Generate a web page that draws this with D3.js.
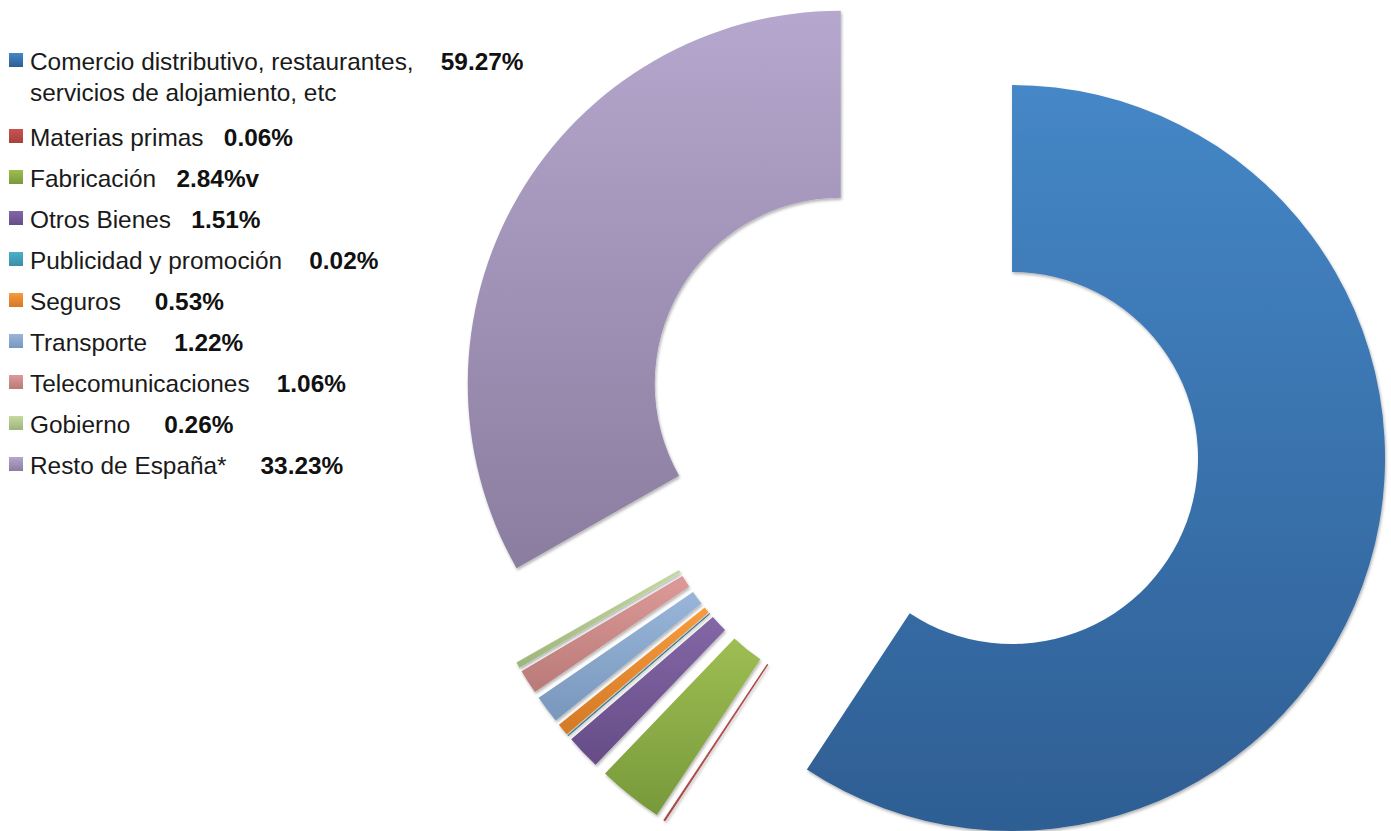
<!DOCTYPE html>
<meta charset="utf-8">
<style>
    body { margin: 0; background: #fff; }
    svg { display: block; }
    .legend text {
        font-family: "Liberation Sans", Arial, sans-serif;
        font-size: 24.4px;
        fill: #1a1a1a;
        white-space: pre;
    }
    .legend .val { font-weight: bold; fill: #111; }
</style>
<body>
<svg width="1391" height="831"></svg>
<script src="https://cdn.jsdelivr.net/npm/d3@7"></script>
<script>

    // data
    var categories = [
        ["Comercio distributivo, restaurantes,", "servicios de alojamiento, etc"],
        ["Materias primas"],
        ["Fabricación"],
        ["Otros Bienes"],
        ["Publicidad y promoción"],
        ["Seguros"],
        ["Transporte"],
        ["Telecomunicaciones"],
        ["Gobierno"],
        ["Resto de España*"]
    ];
    var values = [59.27, 0.06, 2.84, 1.51, 0.02, 0.53, 1.22, 1.06, 0.26, 33.23];
    // value labels as printed (including the stray "v")
    var valueLabels = ["59.27%", "0.06%", "2.84%v", "1.51%", "0.02%", "0.53%", "1.22%", "1.06%", "0.26%", "33.23%"];
    // spaces typed between label and value in the original
    var gaps = ["    ", "   ", "   ", "   ", "    ", "     ", "    ", "    ", "     ", "     "];

    // gradient top / bottom colours
    var colorTop    = ["#4587c7", "#c9524f", "#9ebe53", "#8467a6", "#4dafc9", "#f79b3d", "#99b6da", "#dd9a98", "#c5d9a1", "#b5a7cd"];
    var colorBottom = ["#2e5e93", "#a8413e", "#77993a", "#654c87", "#3790a8", "#d47926", "#7997bc", "#b87a78", "#9eb57a", "#8b7d9f"];

    var svg = d3.select("svg");
    var defs = svg.append("defs");

    values.forEach(function (v, i) {
        var g = defs.append("linearGradient")
            .attr("id", "grad" + i)
            .attr("x1", 0).attr("y1", 0).attr("x2", 0).attr("y2", 1);
        g.append("stop").attr("offset", "0%").attr("stop-color", colorTop[i]);
        g.append("stop").attr("offset", "100%").attr("stop-color", colorBottom[i]);
    });

    var shadow = defs.append("filter")
        .attr("id", "shadow")
        .attr("x", "-10%").attr("y", "-10%")
        .attr("width", "130%").attr("height", "130%");
    shadow.append("feDropShadow")
        .attr("dx", 1).attr("dy", 2)
        .attr("stdDeviation", 1.5)
        .attr("flood-color", "#000")
        .attr("flood-opacity", 0.3);

    // ---- exploded donut ----
    var cx = 922, cy = 431,
        outerR = 373, innerR = 186,
        explode = 94;

    var pie = d3.pie().sort(null).value(function (d) { return d; });
    var arc = d3.arc().innerRadius(innerR).outerRadius(outerR);

    var chart = svg.append("g")
        .attr("transform", "translate(" + cx + "," + cy + ")");

    chart.selectAll("path.slice")
        .data(pie(values))
        .enter().append("path")
        .attr("class", "slice")
        .attr("transform", function (d) {
            var a = (d.startAngle + d.endAngle) / 2;
            return "translate(" + (Math.sin(a) * explode) + "," + (-Math.cos(a) * explode) + ")";
        })
        .attr("d", arc)
        .attr("fill", function (d, i) { return "url(#grad" + i + ")"; })
        .attr("stroke", function (d, i) { return colorBottom[i]; })
        .attr("stroke-width", function (d) { return d.value < 0.1 ? 0.8 : 0; })
        .attr("filter", "url(#shadow)");

    // ---- legend ----
    var legend = svg.append("g").attr("class", "legend");
    // baselines: first entry wraps to two lines, the rest step evenly
    var rowY = d3.scaleLinear().domain([1, 2]).range([146, 187]);
    var lineH = 31;

    categories.forEach(function (lines, i) {
        var base = i === 0 ? 70 : rowY(i);
        var row = legend.append("g");

        row.append("rect")
            .attr("x", 9)
            .attr("y", base - 17)
            .attr("width", 14)
            .attr("height", 14)
            .attr("fill", "url(#grad" + i + ")");

        var t = row.append("text")
            .attr("x", 30)
            .attr("y", base)
            .attr("xml:space", "preserve");
        t.append("tspan").text(lines[0] + gaps[i]);
        t.append("tspan").attr("class", "val").text(valueLabels[i]);

        if (lines.length > 1) {
            row.append("text")
                .attr("x", 30)
                .attr("y", base + lineH)
                .text(lines[1]);
        }
    });

</script>
</body>
